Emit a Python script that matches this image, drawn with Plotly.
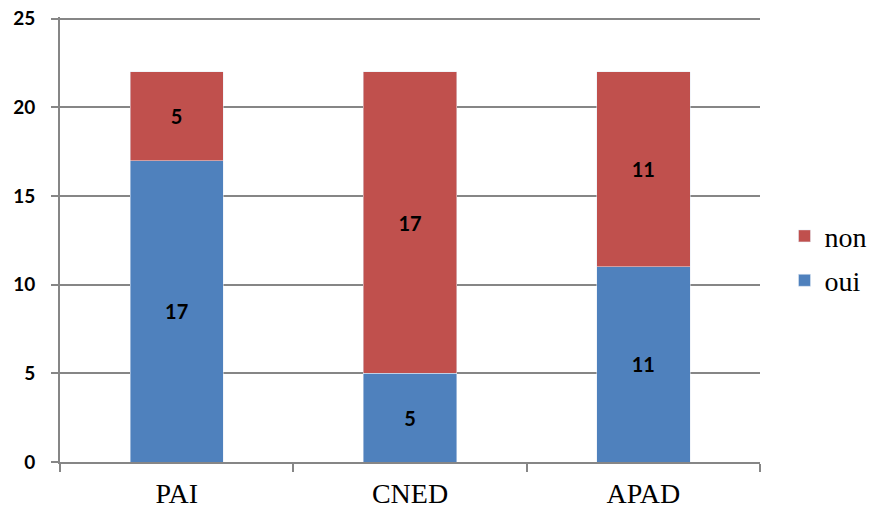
import plotly.graph_objects as go

categories = ["PAI", "CNED", "APAD"]
oui = [17, 5, 11]
non = [5, 17, 11]
y_ticks = [0, 5, 10, 15, 20, 25]

label_font = dict(family="Lato", size=20, color="black", weight="bold")

fig = go.Figure()
fig.add_trace(go.Bar(
    x=categories, y=oui, name="oui", marker_color="#4F81BD",
    text=oui, textposition="inside", insidetextanchor="middle",
    textfont=label_font, width=0.4, legendgroup="oui", legendrank=2,
))
fig.add_trace(go.Bar(
    x=categories, y=non, name="non", marker_color="#C0504D",
    text=non, textposition="inside", insidetextanchor="middle",
    textfont=label_font, width=0.4, legendgroup="non", legendrank=1,
))

fig.update_layout(
    barmode="stack",
    width=871, height=510,
    margin=dict(l=60, r=111, t=17.2, b=48, autoexpand=False),
    plot_bgcolor="white", paper_bgcolor="white",
    showlegend=True,
    legend=dict(
        traceorder="grouped",
        x=1.035, y=0.458, xanchor="left", yanchor="middle",
        font=dict(family="Liberation Serif", size=28, color="black"),
        itemwidth=30, tracegroupgap=5,
    ),
    uniformtext=dict(minsize=10, mode="show"),
)
fig.update_xaxes(
    type="category", tickson="boundaries", ticks="outside", ticklen=8,
    tickwidth=2, tickcolor="#868686",
    showline=True, linecolor="#868686", linewidth=2,
    tickfont=dict(family="Liberation Serif", size=28, color="black"),
    showgrid=False, automargin=False, ticklabelstandoff=5,
)
fig.update_yaxes(
    range=[0, 25.1], tickmode="array", tickvals=y_ticks,
    ticks="outside", ticklen=7, tickwidth=2, tickcolor="#868686",
    showline=True, linecolor="#868686", linewidth=2,
    showgrid=True, gridcolor="#868686", gridwidth=2,
    zeroline=False, automargin=False, ticklabeloverflow="allow",
    tickfont=dict(family="Lato", size=19, color="black", weight="bold"),
    ticklabelstandoff=12,
)

fig.write_html(
    "out.html",
    config={"displayModeBar": False},
    post_script="document.body.style.margin='0';document.body.style.overflow='hidden';",
)
